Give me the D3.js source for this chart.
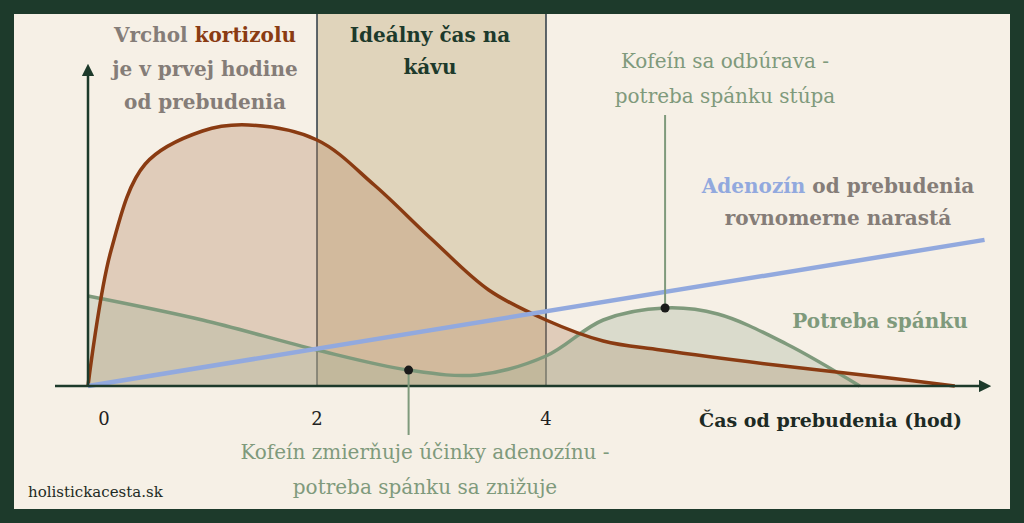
<!DOCTYPE html>
<html><head><meta charset="utf-8">
<script src="https://cdn.jsdelivr.net/npm/d3@7"></script>
<style>body{margin:0;}svg{display:block;}</style>
</head><body><div id="chart"></div>
<script>
// data (hours since waking, relative level)
const cortisol = [[0,0],[0.2,45],[0.5,74],[1,85],[1.4,87],[2,82],[2.5,67],[3,49],[3.5,32],[4,22],[4.5,15],[5,12],[6,7],[7,2.7],[7.57,0]];
const sleepNeed = [[0,30],[1,22],[2,12],[2.8,5.3],[3.4,3.7],[4,10],[4.5,22],[5.04,26],[5.5,24],[6.1,14],[6.74,0]];
const adenosine = [[0,0],[7.83,48.7]];
const xTicks = [0,2,4];
const window2 = [2,4];

const W = 1024, H = 523;
const svg = d3.select("#chart").append("svg").attr("width", W).attr("height", H);
const x = d3.scaleLinear().domain([0, 1]).range([88, 202.5]);
const y = d3.scaleLinear().domain([0, 100]).range([386, 86]);
const font = "DejaVu Serif";

svg.append("rect").attr("width", W).attr("height", H).attr("fill", "#1d3a2b");
svg.append("rect").attr("x", 14).attr("y", 14).attr("width", W - 28).attr("height", H - 28).attr("fill", "#f6f0e6");

// ideal coffee window
svg.append("rect").attr("x", x(window2[0])).attr("y", 14)
  .attr("width", x(window2[1]) - x(window2[0])).attr("height", 386 - 14)
  .attr("fill", "#e0d4bb");
window2.forEach(t => svg.append("line").attr("x1", x(t)).attr("x2", x(t)).attr("y1", 14).attr("y2", 386)
  .attr("stroke", "#2c3a44").attr("stroke-width", 1.5));

const line = d3.line().x(d => x(d[0])).y(d => y(d[1])).curve(d3.curveCatmullRom);
const area = d3.area().x(d => x(d[0])).y0(y(0)).y1(d => y(d[1])).curve(d3.curveCatmullRom);

svg.append("path").attr("d", area(cortisol)).attr("fill", "#b88a66").attr("opacity", 0.35);
svg.append("path").attr("d", area(sleepNeed)).attr("fill", "#a7b49a").attr("opacity", 0.35);
svg.append("path").attr("d", line(sleepNeed)).attr("fill", "none").attr("stroke", "#7f9a7c").attr("stroke-width", 3.5);
svg.append("path").attr("d", line(cortisol)).attr("fill", "none").attr("stroke", "#8a3b12").attr("stroke-width", 3.5);
svg.append("path").attr("d", d3.line().x(d => x(d[0])).y(d => y(d[1]))(adenosine))
  .attr("fill", "none").attr("stroke", "#92a9de").attr("stroke-width", 4.5);

// axes
const axisCol = "#1d3a2b";
svg.append("defs").append("marker").attr("id", "arr").attr("viewBox", "0 0 10 10")
  .attr("refX", 5).attr("refY", 5).attr("markerWidth", 5).attr("markerHeight", 5).attr("orient", "auto")
  .append("path").attr("d", "M0,0L10,5L0,10z").attr("fill", axisCol);
svg.append("line").attr("x1", 55).attr("x2", 985).attr("y1", 386).attr("y2", 386)
  .attr("stroke", axisCol).attr("stroke-width", 2.5).attr("marker-end", "url(#arr)");
svg.append("line").attr("x1", 88).attr("x2", 88).attr("y1", 386).attr("y2", 70)
  .attr("stroke", axisCol).attr("stroke-width", 2.5).attr("marker-end", "url(#arr)");
svg.selectAll(".tk").data(xTicks).enter().append("text")
  .attr("x", d => d === 0 ? x(d) + 16 : x(d)).attr("y", 425).attr("text-anchor", "middle")
  .attr("font-family", font).attr("font-size", 18).attr("fill", "#222").text(d => d);
svg.append("text").attr("x", 962).attr("y", 427).attr("text-anchor", "end")
  .attr("font-family", font).attr("font-weight", "bold").attr("font-size", 19).attr("fill", "#1d2a24")
  .text("Čas od prebudenia (hod)");

// annotations
const pts = [[2.8, 5.3, 435], [5.04, 26, 115]];
pts.forEach(p => {
  svg.append("line").attr("x1", x(p[0])).attr("x2", x(p[0])).attr("y1", y(p[1])).attr("y2", p[2])
    .attr("stroke", "#7f9a7c").attr("stroke-width", 2);
  svg.append("circle").attr("cx", x(p[0])).attr("cy", y(p[1])).attr("r", 4.5).attr("fill", "#1a1a1a");
});

function txt(xp, yp, parts, anchor, size, weight) {
  const t = svg.append("text").attr("x", xp).attr("y", yp).attr("text-anchor", anchor || "middle")
    .attr("font-family", font).attr("font-size", size || 20).attr("font-weight", weight || "bold");
  parts.forEach(p => t.append("tspan").attr("fill", p[1]).text(p[0]));
}
const grey = "#857d78", green = "#7f9a7c", brown = "#8a3b12", blue = "#92a9de";
txt(205, 42, [["Vrchol ", grey], ["kortizolu", brown]]);
txt(205, 76, [["je v prvej hodine", grey]]);
txt(205, 109, [["od prebudenia", grey]]);
txt(430, 42, [["Ideálny čas na", "#1d3a2b"]]);
txt(430, 74, [["kávu", "#1d3a2b"]]);
txt(725, 68, [["Kofeín sa odbúrava -", green]], "middle", 20, "normal");
txt(725, 103, [["potreba spánku stúpa", green]], "middle", 20, "normal");
txt(838, 193, [["Adenozín", blue], [" od prebudenia", grey]]);
txt(838, 225, [["rovnomerne narastá", grey]]);
txt(880, 328, [["Potreba spánku", green]]);
txt(425, 459, [["Kofeín zmierňuje účinky adenozínu -", green]], "middle", 20, "normal");
txt(425, 494, [["potreba spánku sa znižuje", green]], "middle", 20, "normal");
txt(28, 497, [["holistickacesta.sk", "#1d2a24"]], "start", 15, "normal");
</script></body></html>
